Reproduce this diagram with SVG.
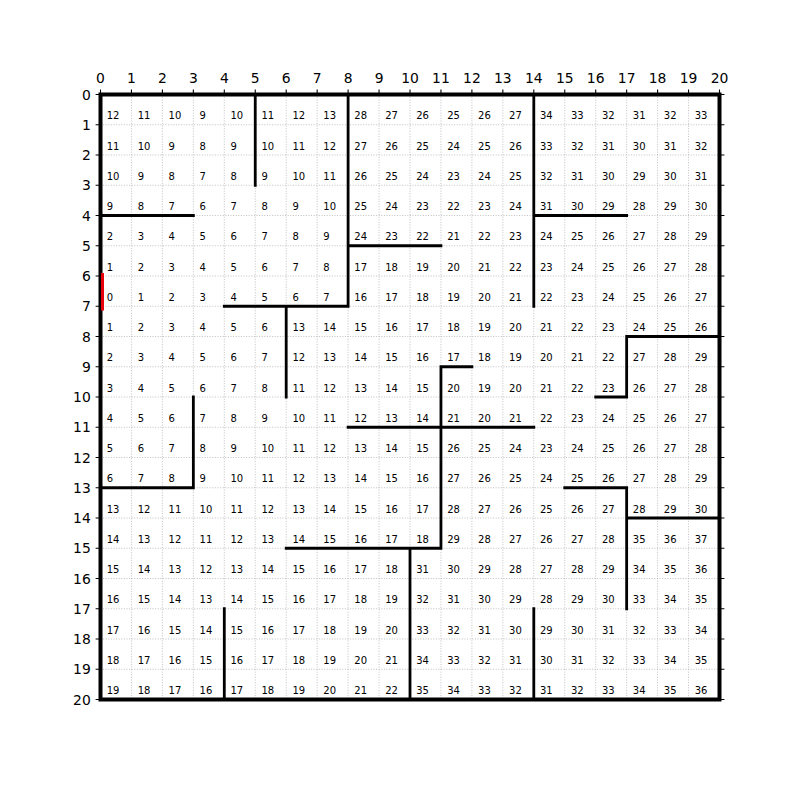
<svg xmlns="http://www.w3.org/2000/svg" width="800" height="787" viewBox="0 0 800 787">
<style>
.grid{fill:none;stroke:#b0b0b0;stroke-width:0.8;stroke-dasharray:1,1.6}
.wall{fill:none;stroke:#000;stroke-width:2.8;stroke-linecap:square}
.border{fill:none;stroke:#000;stroke-width:4}
.tick{fill:none;stroke:#000;stroke-width:1.1}
.num{font-family:"DejaVu Sans",sans-serif;font-size:10px;fill:#000}
.tl{font-family:"DejaVu Sans",sans-serif;font-size:13.9px;fill:#000}
</style>
<rect width="800" height="787" fill="#fff"/>
<g id="grid">
<path class="grid" d="M131.45 94.5V699.5M162.4 94.5V699.5M193.35 94.5V699.5M224.3 94.5V699.5M255.25 94.5V699.5M286.2 94.5V699.5M317.15 94.5V699.5M348.1 94.5V699.5M379.05 94.5V699.5M410 94.5V699.5M440.95 94.5V699.5M471.9 94.5V699.5M502.85 94.5V699.5M533.8 94.5V699.5M564.75 94.5V699.5M595.7 94.5V699.5M626.65 94.5V699.5M657.6 94.5V699.5M688.55 94.5V699.5M100.5 124.75H719.5M100.5 155H719.5M100.5 185.25H719.5M100.5 215.5H719.5M100.5 245.75H719.5M100.5 276H719.5M100.5 306.25H719.5M100.5 336.5H719.5M100.5 366.75H719.5M100.5 397H719.5M100.5 427.25H719.5M100.5 457.5H719.5M100.5 487.75H719.5M100.5 518H719.5M100.5 548.25H719.5M100.5 578.5H719.5M100.5 608.75H719.5M100.5 639H719.5M100.5 669.25H719.5"/>
</g>
<g id="numbers" class="num">
<g id="row-0"><text y="119.3"><tspan x="106.7">12</tspan><tspan x="137.65">11</tspan><tspan x="168.6">10</tspan><tspan x="199.55">9</tspan><tspan x="230.5">10</tspan><tspan x="261.45">11</tspan><tspan x="292.4">12</tspan><tspan x="323.35">13</tspan><tspan x="354.3">28</tspan><tspan x="385.25">27</tspan><tspan x="416.2">26</tspan><tspan x="447.15">25</tspan><tspan x="478.1">26</tspan><tspan x="509.05">27</tspan><tspan x="540">34</tspan><tspan x="570.95">33</tspan><tspan x="601.9">32</tspan><tspan x="632.85">31</tspan><tspan x="663.8">32</tspan><tspan x="694.75">33</tspan></text></g>
<g id="row-1"><text y="149.55"><tspan x="106.7">11</tspan><tspan x="137.65">10</tspan><tspan x="168.6">9</tspan><tspan x="199.55">8</tspan><tspan x="230.5">9</tspan><tspan x="261.45">10</tspan><tspan x="292.4">11</tspan><tspan x="323.35">12</tspan><tspan x="354.3">27</tspan><tspan x="385.25">26</tspan><tspan x="416.2">25</tspan><tspan x="447.15">24</tspan><tspan x="478.1">25</tspan><tspan x="509.05">26</tspan><tspan x="540">33</tspan><tspan x="570.95">32</tspan><tspan x="601.9">31</tspan><tspan x="632.85">30</tspan><tspan x="663.8">31</tspan><tspan x="694.75">32</tspan></text></g>
<g id="row-2"><text y="179.8"><tspan x="106.7">10</tspan><tspan x="137.65">9</tspan><tspan x="168.6">8</tspan><tspan x="199.55">7</tspan><tspan x="230.5">8</tspan><tspan x="261.45">9</tspan><tspan x="292.4">10</tspan><tspan x="323.35">11</tspan><tspan x="354.3">26</tspan><tspan x="385.25">25</tspan><tspan x="416.2">24</tspan><tspan x="447.15">23</tspan><tspan x="478.1">24</tspan><tspan x="509.05">25</tspan><tspan x="540">32</tspan><tspan x="570.95">31</tspan><tspan x="601.9">30</tspan><tspan x="632.85">29</tspan><tspan x="663.8">30</tspan><tspan x="694.75">31</tspan></text></g>
<g id="row-3"><text y="210.05"><tspan x="106.7">9</tspan><tspan x="137.65">8</tspan><tspan x="168.6">7</tspan><tspan x="199.55">6</tspan><tspan x="230.5">7</tspan><tspan x="261.45">8</tspan><tspan x="292.4">9</tspan><tspan x="323.35">10</tspan><tspan x="354.3">25</tspan><tspan x="385.25">24</tspan><tspan x="416.2">23</tspan><tspan x="447.15">22</tspan><tspan x="478.1">23</tspan><tspan x="509.05">24</tspan><tspan x="540">31</tspan><tspan x="570.95">30</tspan><tspan x="601.9">29</tspan><tspan x="632.85">28</tspan><tspan x="663.8">29</tspan><tspan x="694.75">30</tspan></text></g>
<g id="row-4"><text y="240.3"><tspan x="106.7">2</tspan><tspan x="137.65">3</tspan><tspan x="168.6">4</tspan><tspan x="199.55">5</tspan><tspan x="230.5">6</tspan><tspan x="261.45">7</tspan><tspan x="292.4">8</tspan><tspan x="323.35">9</tspan><tspan x="354.3">24</tspan><tspan x="385.25">23</tspan><tspan x="416.2">22</tspan><tspan x="447.15">21</tspan><tspan x="478.1">22</tspan><tspan x="509.05">23</tspan><tspan x="540">24</tspan><tspan x="570.95">25</tspan><tspan x="601.9">26</tspan><tspan x="632.85">27</tspan><tspan x="663.8">28</tspan><tspan x="694.75">29</tspan></text></g>
<g id="row-5"><text y="270.55"><tspan x="106.7">1</tspan><tspan x="137.65">2</tspan><tspan x="168.6">3</tspan><tspan x="199.55">4</tspan><tspan x="230.5">5</tspan><tspan x="261.45">6</tspan><tspan x="292.4">7</tspan><tspan x="323.35">8</tspan><tspan x="354.3">17</tspan><tspan x="385.25">18</tspan><tspan x="416.2">19</tspan><tspan x="447.15">20</tspan><tspan x="478.1">21</tspan><tspan x="509.05">22</tspan><tspan x="540">23</tspan><tspan x="570.95">24</tspan><tspan x="601.9">25</tspan><tspan x="632.85">26</tspan><tspan x="663.8">27</tspan><tspan x="694.75">28</tspan></text></g>
<g id="row-6"><text y="300.8"><tspan x="106.7">0</tspan><tspan x="137.65">1</tspan><tspan x="168.6">2</tspan><tspan x="199.55">3</tspan><tspan x="230.5">4</tspan><tspan x="261.45">5</tspan><tspan x="292.4">6</tspan><tspan x="323.35">7</tspan><tspan x="354.3">16</tspan><tspan x="385.25">17</tspan><tspan x="416.2">18</tspan><tspan x="447.15">19</tspan><tspan x="478.1">20</tspan><tspan x="509.05">21</tspan><tspan x="540">22</tspan><tspan x="570.95">23</tspan><tspan x="601.9">24</tspan><tspan x="632.85">25</tspan><tspan x="663.8">26</tspan><tspan x="694.75">27</tspan></text></g>
<g id="row-7"><text y="331.05"><tspan x="106.7">1</tspan><tspan x="137.65">2</tspan><tspan x="168.6">3</tspan><tspan x="199.55">4</tspan><tspan x="230.5">5</tspan><tspan x="261.45">6</tspan><tspan x="292.4">13</tspan><tspan x="323.35">14</tspan><tspan x="354.3">15</tspan><tspan x="385.25">16</tspan><tspan x="416.2">17</tspan><tspan x="447.15">18</tspan><tspan x="478.1">19</tspan><tspan x="509.05">20</tspan><tspan x="540">21</tspan><tspan x="570.95">22</tspan><tspan x="601.9">23</tspan><tspan x="632.85">24</tspan><tspan x="663.8">25</tspan><tspan x="694.75">26</tspan></text></g>
<g id="row-8"><text y="361.3"><tspan x="106.7">2</tspan><tspan x="137.65">3</tspan><tspan x="168.6">4</tspan><tspan x="199.55">5</tspan><tspan x="230.5">6</tspan><tspan x="261.45">7</tspan><tspan x="292.4">12</tspan><tspan x="323.35">13</tspan><tspan x="354.3">14</tspan><tspan x="385.25">15</tspan><tspan x="416.2">16</tspan><tspan x="447.15">17</tspan><tspan x="478.1">18</tspan><tspan x="509.05">19</tspan><tspan x="540">20</tspan><tspan x="570.95">21</tspan><tspan x="601.9">22</tspan><tspan x="632.85">27</tspan><tspan x="663.8">28</tspan><tspan x="694.75">29</tspan></text></g>
<g id="row-9"><text y="391.55"><tspan x="106.7">3</tspan><tspan x="137.65">4</tspan><tspan x="168.6">5</tspan><tspan x="199.55">6</tspan><tspan x="230.5">7</tspan><tspan x="261.45">8</tspan><tspan x="292.4">11</tspan><tspan x="323.35">12</tspan><tspan x="354.3">13</tspan><tspan x="385.25">14</tspan><tspan x="416.2">15</tspan><tspan x="447.15">20</tspan><tspan x="478.1">19</tspan><tspan x="509.05">20</tspan><tspan x="540">21</tspan><tspan x="570.95">22</tspan><tspan x="601.9">23</tspan><tspan x="632.85">26</tspan><tspan x="663.8">27</tspan><tspan x="694.75">28</tspan></text></g>
<g id="row-10"><text y="421.8"><tspan x="106.7">4</tspan><tspan x="137.65">5</tspan><tspan x="168.6">6</tspan><tspan x="199.55">7</tspan><tspan x="230.5">8</tspan><tspan x="261.45">9</tspan><tspan x="292.4">10</tspan><tspan x="323.35">11</tspan><tspan x="354.3">12</tspan><tspan x="385.25">13</tspan><tspan x="416.2">14</tspan><tspan x="447.15">21</tspan><tspan x="478.1">20</tspan><tspan x="509.05">21</tspan><tspan x="540">22</tspan><tspan x="570.95">23</tspan><tspan x="601.9">24</tspan><tspan x="632.85">25</tspan><tspan x="663.8">26</tspan><tspan x="694.75">27</tspan></text></g>
<g id="row-11"><text y="452.05"><tspan x="106.7">5</tspan><tspan x="137.65">6</tspan><tspan x="168.6">7</tspan><tspan x="199.55">8</tspan><tspan x="230.5">9</tspan><tspan x="261.45">10</tspan><tspan x="292.4">11</tspan><tspan x="323.35">12</tspan><tspan x="354.3">13</tspan><tspan x="385.25">14</tspan><tspan x="416.2">15</tspan><tspan x="447.15">26</tspan><tspan x="478.1">25</tspan><tspan x="509.05">24</tspan><tspan x="540">23</tspan><tspan x="570.95">24</tspan><tspan x="601.9">25</tspan><tspan x="632.85">26</tspan><tspan x="663.8">27</tspan><tspan x="694.75">28</tspan></text></g>
<g id="row-12"><text y="482.3"><tspan x="106.7">6</tspan><tspan x="137.65">7</tspan><tspan x="168.6">8</tspan><tspan x="199.55">9</tspan><tspan x="230.5">10</tspan><tspan x="261.45">11</tspan><tspan x="292.4">12</tspan><tspan x="323.35">13</tspan><tspan x="354.3">14</tspan><tspan x="385.25">15</tspan><tspan x="416.2">16</tspan><tspan x="447.15">27</tspan><tspan x="478.1">26</tspan><tspan x="509.05">25</tspan><tspan x="540">24</tspan><tspan x="570.95">25</tspan><tspan x="601.9">26</tspan><tspan x="632.85">27</tspan><tspan x="663.8">28</tspan><tspan x="694.75">29</tspan></text></g>
<g id="row-13"><text y="512.55"><tspan x="106.7">13</tspan><tspan x="137.65">12</tspan><tspan x="168.6">11</tspan><tspan x="199.55">10</tspan><tspan x="230.5">11</tspan><tspan x="261.45">12</tspan><tspan x="292.4">13</tspan><tspan x="323.35">14</tspan><tspan x="354.3">15</tspan><tspan x="385.25">16</tspan><tspan x="416.2">17</tspan><tspan x="447.15">28</tspan><tspan x="478.1">27</tspan><tspan x="509.05">26</tspan><tspan x="540">25</tspan><tspan x="570.95">26</tspan><tspan x="601.9">27</tspan><tspan x="632.85">28</tspan><tspan x="663.8">29</tspan><tspan x="694.75">30</tspan></text></g>
<g id="row-14"><text y="542.8"><tspan x="106.7">14</tspan><tspan x="137.65">13</tspan><tspan x="168.6">12</tspan><tspan x="199.55">11</tspan><tspan x="230.5">12</tspan><tspan x="261.45">13</tspan><tspan x="292.4">14</tspan><tspan x="323.35">15</tspan><tspan x="354.3">16</tspan><tspan x="385.25">17</tspan><tspan x="416.2">18</tspan><tspan x="447.15">29</tspan><tspan x="478.1">28</tspan><tspan x="509.05">27</tspan><tspan x="540">26</tspan><tspan x="570.95">27</tspan><tspan x="601.9">28</tspan><tspan x="632.85">35</tspan><tspan x="663.8">36</tspan><tspan x="694.75">37</tspan></text></g>
<g id="row-15"><text y="573.05"><tspan x="106.7">15</tspan><tspan x="137.65">14</tspan><tspan x="168.6">13</tspan><tspan x="199.55">12</tspan><tspan x="230.5">13</tspan><tspan x="261.45">14</tspan><tspan x="292.4">15</tspan><tspan x="323.35">16</tspan><tspan x="354.3">17</tspan><tspan x="385.25">18</tspan><tspan x="416.2">31</tspan><tspan x="447.15">30</tspan><tspan x="478.1">29</tspan><tspan x="509.05">28</tspan><tspan x="540">27</tspan><tspan x="570.95">28</tspan><tspan x="601.9">29</tspan><tspan x="632.85">34</tspan><tspan x="663.8">35</tspan><tspan x="694.75">36</tspan></text></g>
<g id="row-16"><text y="603.3"><tspan x="106.7">16</tspan><tspan x="137.65">15</tspan><tspan x="168.6">14</tspan><tspan x="199.55">13</tspan><tspan x="230.5">14</tspan><tspan x="261.45">15</tspan><tspan x="292.4">16</tspan><tspan x="323.35">17</tspan><tspan x="354.3">18</tspan><tspan x="385.25">19</tspan><tspan x="416.2">32</tspan><tspan x="447.15">31</tspan><tspan x="478.1">30</tspan><tspan x="509.05">29</tspan><tspan x="540">28</tspan><tspan x="570.95">29</tspan><tspan x="601.9">30</tspan><tspan x="632.85">33</tspan><tspan x="663.8">34</tspan><tspan x="694.75">35</tspan></text></g>
<g id="row-17"><text y="633.55"><tspan x="106.7">17</tspan><tspan x="137.65">16</tspan><tspan x="168.6">15</tspan><tspan x="199.55">14</tspan><tspan x="230.5">15</tspan><tspan x="261.45">16</tspan><tspan x="292.4">17</tspan><tspan x="323.35">18</tspan><tspan x="354.3">19</tspan><tspan x="385.25">20</tspan><tspan x="416.2">33</tspan><tspan x="447.15">32</tspan><tspan x="478.1">31</tspan><tspan x="509.05">30</tspan><tspan x="540">29</tspan><tspan x="570.95">30</tspan><tspan x="601.9">31</tspan><tspan x="632.85">32</tspan><tspan x="663.8">33</tspan><tspan x="694.75">34</tspan></text></g>
<g id="row-18"><text y="663.8"><tspan x="106.7">18</tspan><tspan x="137.65">17</tspan><tspan x="168.6">16</tspan><tspan x="199.55">15</tspan><tspan x="230.5">16</tspan><tspan x="261.45">17</tspan><tspan x="292.4">18</tspan><tspan x="323.35">19</tspan><tspan x="354.3">20</tspan><tspan x="385.25">21</tspan><tspan x="416.2">34</tspan><tspan x="447.15">33</tspan><tspan x="478.1">32</tspan><tspan x="509.05">31</tspan><tspan x="540">30</tspan><tspan x="570.95">31</tspan><tspan x="601.9">32</tspan><tspan x="632.85">33</tspan><tspan x="663.8">34</tspan><tspan x="694.75">35</tspan></text></g>
<g id="row-19"><text y="694.05"><tspan x="106.7">19</tspan><tspan x="137.65">18</tspan><tspan x="168.6">17</tspan><tspan x="199.55">16</tspan><tspan x="230.5">17</tspan><tspan x="261.45">18</tspan><tspan x="292.4">19</tspan><tspan x="323.35">20</tspan><tspan x="354.3">21</tspan><tspan x="385.25">22</tspan><tspan x="416.2">35</tspan><tspan x="447.15">34</tspan><tspan x="478.1">33</tspan><tspan x="509.05">32</tspan><tspan x="540">31</tspan><tspan x="570.95">32</tspan><tspan x="601.9">33</tspan><tspan x="632.85">34</tspan><tspan x="663.8">35</tspan><tspan x="694.75">36</tspan></text></g>
</g>
<g id="walls">
<path class="wall" d="M255.25 94.5V185.25M348.1 94.5V306.25M533.8 94.5V306.25M100.5 215.5H193.35M533.8 215.5H626.65M348.1 245.75H440.95M224.3 306.25H348.1M286.2 306.25V397M626.65 336.5H719.5M626.65 336.5V397M595.7 397H626.65M440.95 366.75H471.9M440.95 366.75V548.25M348.1 427.25H533.8M193.35 397V487.75M100.5 487.75H193.35M564.75 487.75H626.65M626.65 487.75V608.75M626.65 518H719.5M286.2 548.25H440.95M410 548.25V699.5M224.3 608.75V699.5M533.8 608.75V699.5"/>
</g>
<g id="border">
<rect class="border" x="100.5" y="94.5" width="619" height="605"/>
</g>
<g id="start">
<line x1="102.5" y1="273" x2="102.5" y2="310.5" stroke="#e8000b" stroke-width="3"/>
</g>
<g id="ticks">
<path class="tick" d="M100.5 94.5V89.6M131.45 94.5V89.6M162.4 94.5V89.6M193.35 94.5V89.6M224.3 94.5V89.6M255.25 94.5V89.6M286.2 94.5V89.6M317.15 94.5V89.6M348.1 94.5V89.6M379.05 94.5V89.6M410 94.5V89.6M440.95 94.5V89.6M471.9 94.5V89.6M502.85 94.5V89.6M533.8 94.5V89.6M564.75 94.5V89.6M595.7 94.5V89.6M626.65 94.5V89.6M657.6 94.5V89.6M688.55 94.5V89.6M719.5 94.5V89.6"/>
<path class="tick" d="M100.5 94.5H95.6M100.5 124.75H95.6M100.5 155H95.6M100.5 185.25H95.6M100.5 215.5H95.6M100.5 245.75H95.6M100.5 276H95.6M100.5 306.25H95.6M100.5 336.5H95.6M100.5 366.75H95.6M100.5 397H95.6M100.5 427.25H95.6M100.5 457.5H95.6M100.5 487.75H95.6M100.5 518H95.6M100.5 548.25H95.6M100.5 578.5H95.6M100.5 608.75H95.6M100.5 639H95.6M100.5 669.25H95.6M100.5 699.5H95.6"/>
<path class="tick" d="M719.5 94.5H724.4M719.5 124.75H724.4M719.5 155H724.4M719.5 185.25H724.4M719.5 215.5H724.4M719.5 245.75H724.4M719.5 276H724.4M719.5 306.25H724.4M719.5 336.5H724.4M719.5 366.75H724.4M719.5 397H724.4M719.5 427.25H724.4M719.5 457.5H724.4M719.5 487.75H724.4M719.5 518H724.4M719.5 548.25H724.4M719.5 578.5H724.4M719.5 608.75H724.4M719.5 639H724.4M719.5 669.25H724.4M719.5 699.5H724.4"/>
</g>
<g id="x-labels" class="tl" text-anchor="middle">
<text y="83"><tspan x="100.5">0</tspan><tspan x="131.45">1</tspan><tspan x="162.4">2</tspan><tspan x="193.35">3</tspan><tspan x="224.3">4</tspan><tspan x="255.25">5</tspan><tspan x="286.2">6</tspan><tspan x="317.15">7</tspan><tspan x="348.1">8</tspan><tspan x="379.05">9</tspan><tspan x="410">10</tspan><tspan x="440.95">11</tspan><tspan x="471.9">12</tspan><tspan x="502.85">13</tspan><tspan x="533.8">14</tspan><tspan x="564.75">15</tspan><tspan x="595.7">16</tspan><tspan x="626.65">17</tspan><tspan x="657.6">18</tspan><tspan x="688.55">19</tspan><tspan x="719.5">20</tspan></text>
</g>
<g id="y-labels" class="tl" text-anchor="end">
<text x="90.8" y="99.5">0</text><text x="90.8" y="129.75">1</text><text x="90.8" y="160">2</text><text x="90.8" y="190.25">3</text><text x="90.8" y="220.5">4</text><text x="90.8" y="250.75">5</text><text x="90.8" y="281">6</text><text x="90.8" y="311.25">7</text><text x="90.8" y="341.5">8</text><text x="90.8" y="371.75">9</text><text x="90.8" y="402">10</text><text x="90.8" y="432.25">11</text><text x="90.8" y="462.5">12</text><text x="90.8" y="492.75">13</text><text x="90.8" y="523">14</text><text x="90.8" y="553.25">15</text><text x="90.8" y="583.5">16</text><text x="90.8" y="613.75">17</text><text x="90.8" y="644">18</text><text x="90.8" y="674.25">19</text><text x="90.8" y="704.5">20</text>
</g>
</svg>
